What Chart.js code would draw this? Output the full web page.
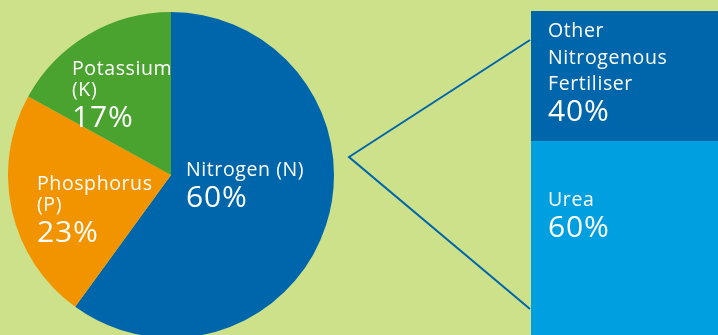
<!DOCTYPE html>
<html lang="en">
<head>
<meta charset="utf-8">
<script src="https://cdn.jsdelivr.net/npm/chart.js@4.4.0/dist/chart.umd.min.js"></script>
<style>
  html, body { margin: 0; padding: 0; }
  body { width: 718px; height: 335px; overflow: hidden; background: #cde08a; position: relative; }
  #pie { position: absolute; left: 8px; top: 12px; }
  #bar { position: absolute; left: 340px; top: 0; }
</style>
</head>
<body>
<canvas id="pie" width="326" height="326"></canvas>
<canvas id="bar" width="378" height="335"></canvas>
<script>
// Fertiliser use, share by nutrient
const PIE_NAMES = [['Nitrogen (N)'], ['Phosphorus', '(P)'], ['Potassium', '(K)']];
const PIE_VALUES = [60, 23, 17];
const PIE_COLORS = ['#0066ab', '#f29400', '#4aa22f'];

// breakdown of the nitrogen slice
const BAR_NAMES = [['Other', 'Nitrogenous', 'Fertiliser'], ['Urea']];
const BAR_VALUES = [40, 60];
const BAR_COLORS = ['#0066ab', '#009fe0'];

const FONT = '"Open Sans", "Noto Sans", sans-serif';

// where each text block starts (x, first baseline) in canvas pixels
const PIE_TEXT_POS = [[178, 164, 21], [29, 178, 21], [64, 63, 21]];
const BAR_TEXT_POS = [[208, 37, 26.5], [208, 206, 26.5]];

const drawBlocks = (ctx, names, values, pos) => {
  ctx.save();
  ctx.fillStyle = '#ffffff';
  ctx.textBaseline = 'alphabetic';
  ctx.textAlign = 'left';
  names.forEach((lines, i) => {
    const [x, y, lh] = pos[i];
    ctx.font = `19.5px ${FONT}`;
    ctx.letterSpacing = '0.6px';
    lines.forEach((t, j) => ctx.fillText(t, x, y + j * lh));
    ctx.font = `30px ${FONT}`;
    ctx.letterSpacing = '0.8px';
    ctx.fillText(values[i] + '%', x, y + (lines.length - 1) * lh + 31);
  });
  ctx.restore();
};

const pieText = {
  id: 'pieText',
  afterDatasetsDraw(chart) {
    drawBlocks(chart.ctx, PIE_NAMES, PIE_VALUES, PIE_TEXT_POS);
  },
};

const barText = {
  id: 'barText',
  beforeDatasetsDraw(chart) {
    // connector from the pie to the bar
    const ctx = chart.ctx;
    const left = chart.chartArea.left - 1;
    ctx.save();
    ctx.strokeStyle = '#0066ab';
    ctx.lineWidth = 2;
    ctx.beginPath();
    ctx.moveTo(left, 40);
    ctx.lineTo(9, 157);
    ctx.lineTo(left, 309);
    ctx.stroke();
    ctx.restore();
  },
  afterDatasetsDraw(chart) {
    drawBlocks(chart.ctx, BAR_NAMES, BAR_VALUES, BAR_TEXT_POS);
  },
};

new Chart(document.getElementById('pie'), {
  type: 'pie',
  data: {
    labels: PIE_NAMES.map(l => l.join(' ')),
    datasets: [{
      data: PIE_VALUES,
      backgroundColor: PIE_COLORS,
      borderWidth: 0,
      hoverOffset: 0,
    }],
  },
  options: {
    responsive: false,
    animation: false,
    layout: { padding: 0 },
    plugins: { legend: { display: false }, tooltip: { enabled: false } },
  },
  plugins: [pieText],
});

new Chart(document.getElementById('bar'), {
  type: 'bar',
  data: {
    labels: ['Nitrogen (N)'],
    datasets: BAR_NAMES.map((n, i) => ({
      label: n.join(' '),
      data: [BAR_VALUES[i]],
      backgroundColor: BAR_COLORS[i],
      borderWidth: 0,
      barPercentage: 1,
      categoryPercentage: 1,
    })),
  },
  options: {
    responsive: false,
    animation: false,
    layout: { padding: { left: 191, top: 11, right: 0, bottom: 0 } },
    scales: {
      x: { display: false, stacked: true },
      y: { display: false, stacked: true, reverse: true, min: 0, max: 100 },
    },
    plugins: { legend: { display: false }, tooltip: { enabled: false } },
  },
  plugins: [barText],
});
</script>
</body>
</html>
